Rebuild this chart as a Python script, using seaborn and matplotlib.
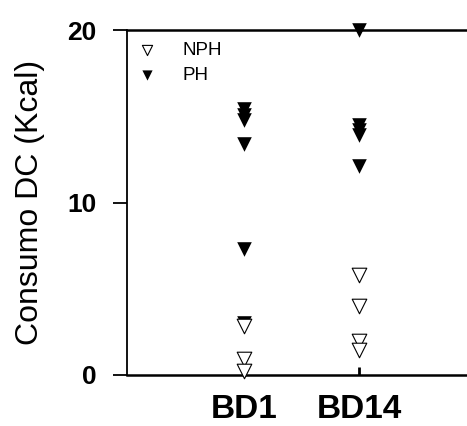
import matplotlib
matplotlib.use("Agg")
import matplotlib.pyplot as plt
import seaborn as sns
import pandas as pd

# Caloric intake (Kcal) per animal on each test day
days = ["BD1", "BD14"]
ph_bd1 = [15.4, 15.1, 14.8, 13.4, 7.3, 3.0]
ph_bd14 = [20.0, 14.5, 14.2, 13.9, 12.1]
nph_bd1 = [2.85, 0.95, 0.25]
nph_bd14 = [5.8, 4.0, 1.95, 1.45]
y_ticks = [0, 10, 20]

ph = pd.DataFrame({"day": [days[0]] * len(ph_bd1) + [days[1]] * len(ph_bd14),
                   "kcal": ph_bd1 + ph_bd14})
nph = pd.DataFrame({"day": [days[0]] * len(nph_bd1) + [days[1]] * len(nph_bd14),
                    "kcal": nph_bd1 + nph_bd14})

sns.set_style("white")
plt.rcParams["font.family"] = ["Liberation Sans", "DejaVu Sans"]
plt.rcParams["text.color"] = "black"
plt.rcParams["axes.labelcolor"] = "black"
plt.rcParams["xtick.color"] = "black"
plt.rcParams["ytick.color"] = "black"

fig = plt.figure(figsize=(4.67, 4.26), dpi=100)
ax = fig.add_axes([127 / 467, 1 - 375 / 426, 340 / 467, 345 / 426])

sns.stripplot(data=ph, x="day", y="kcal", order=days, jitter=False, marker="v",
              size=10.5, color="black", linewidth=0, label="PH", ax=ax,
              clip_on=False, zorder=5)
sns.stripplot(data=nph, x="day", y="kcal", order=days, jitter=False, marker="v",
              size=10.5, color="white", edgecolor="black", linewidth=0.8,
              label="NPH", ax=ax, clip_on=False, zorder=6)

ax.set_xlim(-1.017, 1.94)
ax.set_ylim(0, 20)
ax.set_yticks(y_ticks)
ax.set_xlabel("")
ax.set_ylabel("Consumo DC (Kcal)", fontsize=23, labelpad=16)

for side in ["left", "top", "bottom"]:
    ax.spines[side].set_visible(True)
    ax.spines[side].set_color("black")
ax.spines["right"].set_visible(False)
ax.spines["left"].set_linewidth(1.3)
ax.spines["top"].set_linewidth(1.8)
ax.spines["bottom"].set_linewidth(1.8)

ax.tick_params(axis="y", direction="out", length=10, width=1.3, pad=12,
               labelsize=19, left=True)
ax.tick_params(axis="x", direction="in", length=5.5, width=2, pad=14,
               labelsize=24, bottom=True)
for lab in ax.get_xticklabels() + ax.get_yticklabels():
    lab.set_fontweight("bold")

handles, labels = ax.get_legend_handles_labels()
uniq = {}
for h, l in zip(handles, labels):
    uniq.setdefault(l, h)
ax.legend([uniq["NPH"], uniq["PH"]], ["NPH", "PH"], loc="upper left",
          bbox_to_anchor=(-0.047, 1.015), frameon=False, markerscale=0.7,
          fontsize=13.5, handletextpad=0.9, labelspacing=0.45, borderaxespad=0.5)

fig.savefig("out.png", dpi=100)
